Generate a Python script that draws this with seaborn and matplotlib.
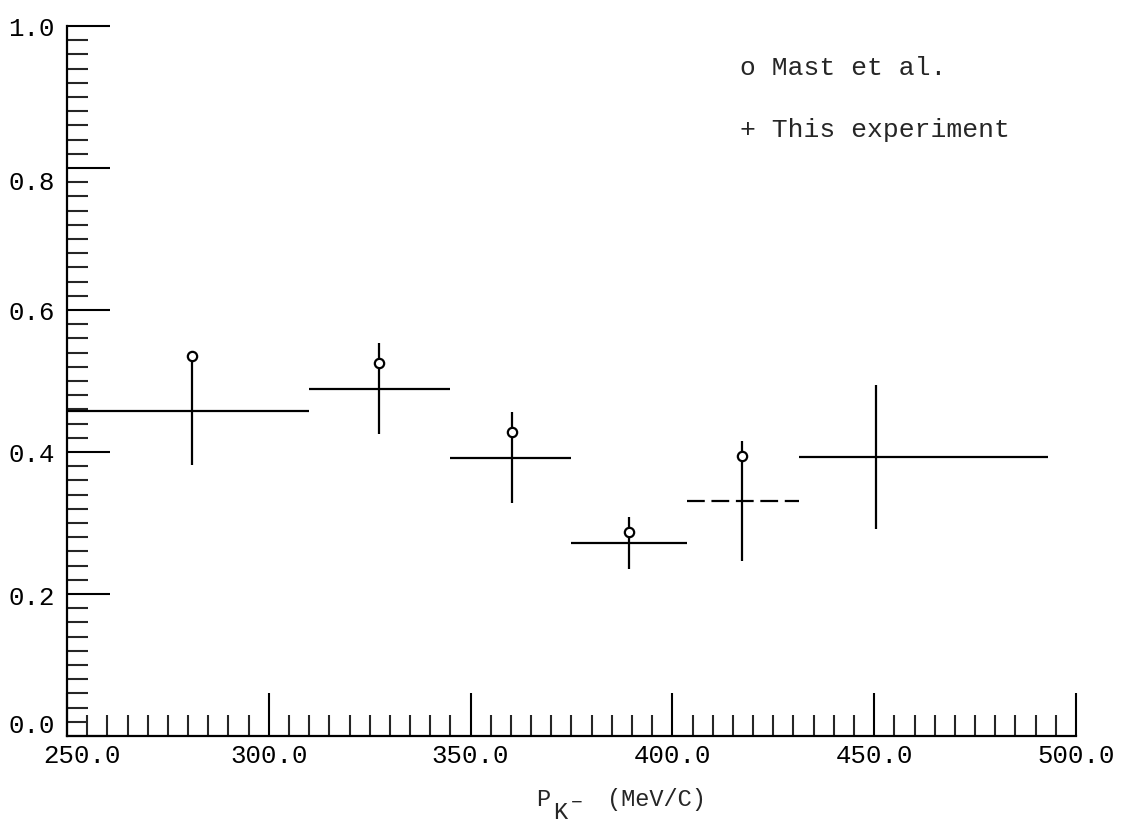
import numpy as np
import pandas as pd
import matplotlib
matplotlib.use("Agg")
import matplotlib.pyplot as plt
from matplotlib.transforms import ScaledTranslation
import seaborn as sns

# ---- data ----
bin_lo = [250.0, 310.0, 345.0, 375.0, 403.5, 431.3]
bin_hi = [310.0, 345.0, 375.0, 403.5, 431.3, 493.0]
exp_x = [281.0, 327.4, 360.3, 389.2, 417.2, 450.4]
exp_y = [0.458, 0.489, 0.392, 0.272, 0.331, 0.393]
exp_err = [0.077, 0.064, 0.064, 0.037, 0.085, 0.102]
exp_style = ["solid", "solid", "solid", "solid", (0, (8, 3)), "solid"]

mast_x = [281.0, 327.4, 360.3, 389.2, 417.2]
mast_y = [0.535, 0.526, 0.428, 0.287, 0.395]

x_ticks = [250.0, 300.0, 350.0, 400.0, 450.0, 500.0]
y_ticks = [0.0, 0.2, 0.4, 0.6, 0.8, 1.0]
legend_labels = ["o Mast et al.", "+ This experiment"]
x_label_p = "P"
x_label_sub = "K"
x_label_sup = "\u2212"
x_label_unit = "(MeV/C)"

# ---- style ----
sns.set_theme(style="white")
plt.rcParams["font.family"] = ["Liberation Mono", "DejaVu Sans Mono"]

fig = plt.figure(figsize=(11.32, 8.28), dpi=100)
ax = fig.add_axes([0.0592, 0.1099, 0.8913, 0.8575])

lw = 1.6
# This experiment: horizontal bin widths and vertical error bars
ax.hlines(exp_y, bin_lo, bin_hi, colors="black", linewidth=lw, linestyles=exp_style)
ax.vlines(exp_x, np.array(exp_y) - np.array(exp_err), np.array(exp_y) + np.array(exp_err),
          colors="black", linewidth=lw)

# Mast et al.: open circles
mast_df = pd.DataFrame({"x": mast_x, "y": mast_y})
sns.scatterplot(data=mast_df, x="x", y="y", ax=ax, marker="o", s=45,
                facecolor="white", edgecolor="black", linewidth=1.6, zorder=5)

ax.set_xlim(250, 500)
ax.set_ylim(0, 1.0)
ax.set_xticks(x_ticks)
ax.set_xticklabels([f"{v:.1f}" for v in x_ticks])
ax.set_yticks(y_ticks)
ax.set_yticklabels([f"{v:.1f}" for v in y_ticks])
ax.set_xticks(np.arange(250, 500.1, 5), minor=True)
ax.set_yticks(np.arange(0, 1.001, 0.02), minor=True)

ax.tick_params(axis="both", which="major", direction="in", length=31, width=1.5,
               labelsize=18.5, colors="black")
ax.tick_params(axis="both", which="minor", direction="in", length=15, width=1.5)
ax.tick_params(axis="y", which="major", pad=9)
ax.tick_params(axis="x", which="major", pad=5)
ax.tick_params(axis="x", which="both", top=False, bottom=True)
ax.tick_params(axis="y", which="both", right=False, left=True)

# nudge a few hand-placed labels as in the original plot
xt = ax.xaxis.get_major_ticks()
xt[0].label1.set_transform(xt[0].label1.get_transform() +
                           ScaledTranslation(0.15, 0, fig.dpi_scale_trans))
yt = ax.yaxis.get_major_ticks()
yt[0].label1.set_transform(yt[0].label1.get_transform() +
                           ScaledTranslation(0, 0.14, fig.dpi_scale_trans))
yt[4].label1.set_transform(yt[4].label1.get_transform() +
                           ScaledTranslation(0, -0.12, fig.dpi_scale_trans))

for s in ["top", "right"]:
    ax.spines[s].set_visible(False)
for s in ["left", "bottom"]:
    ax.spines[s].set_color("black")
    ax.spines[s].set_linewidth(1.6)

# x label: P with subscript K- and unit (separate text pieces)
ax.set_xlabel(x_label_p, fontsize=17, va="baseline", ha="left")
ax.xaxis.set_label_coords((536 - 67) / 1009, (737 - 806) / 710)
ax.set_ylabel("")
fig.text(553 / 1132, 1 - 819 / 828, x_label_sub, fontsize=17, ha="left", va="baseline")
fig.text(571 / 1132, 1 - 803 / 828, x_label_sup, fontsize=14, ha="left", va="center")
fig.text(607 / 1132, 1 - 806 / 828, x_label_unit, fontsize=17, ha="left", va="baseline")

ax.text(0.667, 0.942, legend_labels[0], transform=ax.transAxes, fontsize=19,
        ha="left", va="center")
ax.text(0.667, 0.855, legend_labels[1], transform=ax.transAxes, fontsize=19,
        ha="left", va="center")

fig.savefig("out.png", dpi=100, facecolor="white")
